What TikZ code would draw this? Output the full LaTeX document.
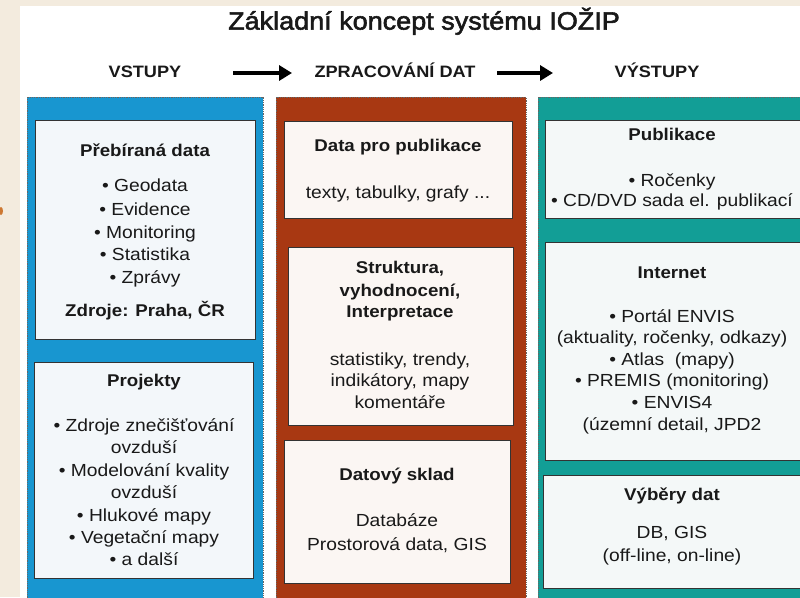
\documentclass[tikz,border=0pt]{standalone}
\usepackage{fontspec}
\setmainfont{Liberation Sans}[FakeStretch=1.1]
\newfontfamily\titlefam{Liberation Sans}[FakeStretch=1.08, FakeBold=2.2]
\usetikzlibrary{arrows.meta}
\definecolor{bgbeige}{RGB}{243,235,222}
\definecolor{colblue}{RGB}{24,150,208}
\definecolor{colrust}{RGB}{168,56,18}
\definecolor{colteal}{RGB}{18,158,150}
\definecolor{boxblue}{RGB}{243,247,250}
\definecolor{boxrust}{RGB}{251,246,243}
\definecolor{boxteal}{RGB}{244,248,248}
\definecolor{txtdark}{RGB}{25,25,25}
\definecolor{markorange}{RGB}{205,120,50}
\begin{document}
\begin{tikzpicture}[x=1pt,y=-1pt,
  colframe/.style={draw=black!60, line width=0.8pt, densely dotted},
  inbox/.style={rectangle, draw=black!80, line width=1.3pt, inner sep=0pt, anchor=north west},
  txt/.style={inner sep=0pt, text=txtdark, font=\fontsize{17.5}{21}\selectfont, text height=0.72em, text depth=0pt, anchor=center},
  boxhead/.style={txt, font=\bfseries\fontsize{17}{21}\selectfont},
  colhead/.style={txt, font=\bfseries\fontsize{16.5}{20}\selectfont},
  titletext/.style={txt, font=\titlefam\fontsize{25}{30}\selectfont},
  flow/.style={line width=3.5pt, -{Triangle[length=13pt,width=15pt]}}
]
\useasboundingbox (0,0) rectangle (800,597);
\clip (0,0) rectangle (800,597);
% background
\fill[bgbeige] (0,0) rectangle (800,597);
\fill[white] (20,6) rectangle (800,597);
\fill[markorange] (1,211) ellipse (2 and 4);

% title and headers
\node[titletext] (title) at (424,26) {Základní koncept systému IOŽIP};
\node[colhead] (hin) at (145,74) {VSTUPY};
\node[colhead] (hproc) at (395,74) {ZPRACOVÁNÍ DAT};
\node[colhead] (hout) at (657,74) {VÝSTUPY};
\coordinate (a1s) at (233,73);
\coordinate (a1e) at (292,73);
\coordinate (a2s) at (497,73);
\coordinate (a2e) at (553,73);
\draw[flow] (a1s) -- (a1e);
\draw[flow] (a2s) -- (a2e);

% columns
\path[fill=colblue, colframe] (27,97) rectangle (263,610);
\path[fill=colrust, colframe] (276,97) rectangle (526,610);
\path[fill=colteal, colframe] (538,97) rectangle (815,610);

% inner boxes
\node[inbox, fill=boxblue, minimum width=220pt, minimum height=219pt] (pb) at (35,120) {};
\node[inbox, fill=boxblue, minimum width=219pt, minimum height=216pt] (pr) at (34,362) {};
\node[inbox, fill=boxrust, minimum width=228pt, minimum height=97pt] (dp) at (284,121) {};
\node[inbox, fill=boxrust, minimum width=225pt, minimum height=178pt] (st) at (288,247) {};
\node[inbox, fill=boxrust, minimum width=226pt, minimum height=143pt] (ds) at (284,440) {};
\node[inbox, fill=boxteal, minimum width=265pt, minimum height=98pt] (pu) at (545,120) {};
\node[inbox, fill=boxteal, minimum width=265pt, minimum height=218pt] (in) at (545,242) {};
\node[inbox, fill=boxteal, minimum width=267pt, minimum height=113pt] (vd) at (543,475) {};

% blue box 1
\node[boxhead] (pb0) at (145,153) {Přebíraná data};
\node[txt] (pb1) at (145,188) {• Geodata};
\node[txt] (pb2) at (145,212) {• Evidence};
\node[txt] (pb3) at (145,235) {• Monitoring};
\node[txt] (pb4) at (145,257) {• Statistika};
\node[txt] (pb5) at (145,280) {• Zprávy};
\node[boxhead] (pb6) at (145,313) {Zdroje: Praha, ČR};
% blue box 2
\node[boxhead] (pr0) at (144,383) {Projekty};
\node[txt] (pr1) at (144,428) {• Zdroje znečišťování};
\node[txt] (pr2) at (144,450) {ovzduší};
\node[txt] (pr3) at (144,473) {• Modelování kvality};
\node[txt] (pr4) at (144,495) {ovzduší};
\node[txt] (pr5) at (144,518) {• Hlukové mapy};
\node[txt] (pr6) at (144,540) {• Vegetační mapy};
\node[txt] (pr7) at (144,562) {• a další};

% brown boxes
\node[boxhead] (dp0) at (398,148) {Data pro publikace};
\node[txt] (dp1) at (398,195) {texty, tabulky, grafy ...};
\node[boxhead] (st0) at (400,270) {Struktura,};
\node[boxhead] (st1) at (400,293) {vyhodnocení,};
\node[boxhead] (st2) at (400,314) {Interpretace};
\node[txt] (st3) at (400,362) {statistiky, trendy,};
\node[txt] (st4) at (400,383) {indikátory, mapy};
\node[txt] (st5) at (400,405) {komentáře};
\node[boxhead] (ds0) at (397,477) {Datový sklad};
\node[txt] (ds1) at (397,523) {Databáze};
\node[txt] (ds2) at (397,547) {Prostorová data, GIS};

% teal boxes
\node[boxhead] (pu0) at (672,137) {Publikace};
\node[txt] (pu1) at (672,183) {• Ročenky};
\node[txt] (pu2) at (672,203) {• CD/DVD sada el. publikací};
\node[boxhead] (in0) at (672,275) {Internet};
\node[txt] (in1) at (672,319) {• Portál ENVIS};
\node[txt] (in2) at (672,340) {(aktuality, ročenky, odkazy)};
\node[txt] (in3) at (672,362) {• Atlas\ \ (mapy)};
\node[txt] (in4) at (672,383) {• PREMIS (monitoring)};
\node[txt] (in5) at (672,405) {• ENVIS4};
\node[txt] (in6) at (672,427) {(územní detail, JPD2};
\node[boxhead] (vd0) at (672,497) {Výběry dat};
\node[txt] (vd1) at (672,535) {DB, GIS};
\node[txt] (vd2) at (672,558) {(off-line, on-line)};
\end{tikzpicture}
\end{document}
